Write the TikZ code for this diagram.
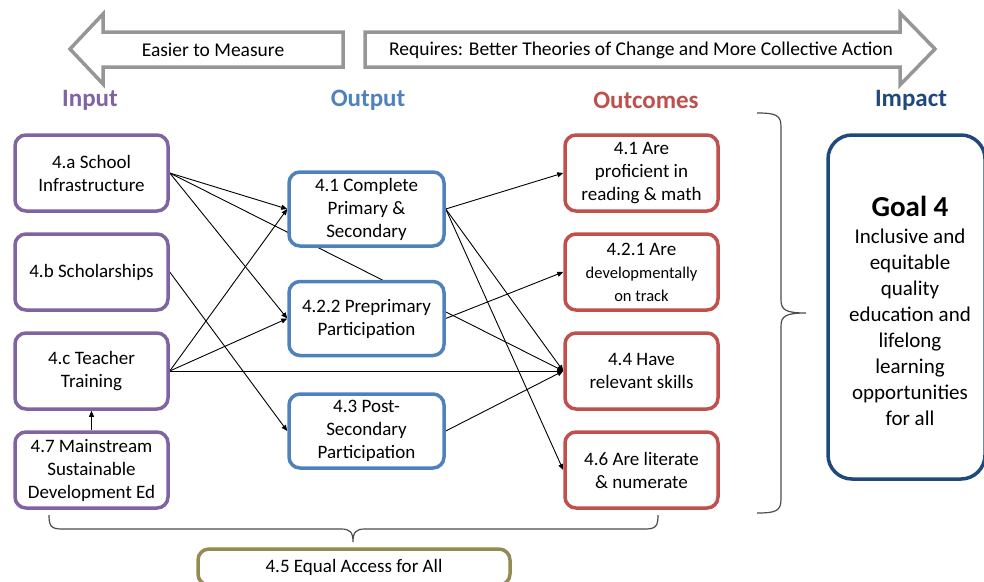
\documentclass[tikz,border=0pt]{standalone}
\usepackage{fontspec}
\setmainfont{Carlito}
\usetikzlibrary{arrows.meta,backgrounds}
\definecolor{inpurple}{HTML}{8064A2}
\definecolor{outblue}{HTML}{4F81BD}
\definecolor{ocred}{HTML}{C0504D}
\definecolor{impblue}{HTML}{1F497D}
\definecolor{eqolive}{HTML}{948A54}
\definecolor{arrgray}{HTML}{969696}
\begin{document}
\begin{tikzpicture}[x=1pt,y=-1pt,
  box/.style={draw, line width=3.5pt, rounded corners=11pt, fill=white,
    minimum width=153pt, align=center, inner sep=2pt,
    font=\fontsize{19}{23}\selectfont},
  inbox/.style={box, draw=inpurple, minimum height=76pt},
  outbox/.style={box, draw=outblue, minimum height=74pt, minimum width=155pt},
  ocbox/.style={box, draw=ocred, minimum height=76pt},
  head/.style={font=\fontsize{25}{29}\selectfont\bfseries},
  link/.style={line width=0.9pt, -{Triangle[length=6pt,width=5pt]}},
  bigarrow/.style={draw=arrgray, line width=3.5pt, fill=white, line join=miter},
  bracestyle/.style={draw=black!70, line width=1.2pt},
  arrowtext/.style={font=\fontsize{19.5}{23}\selectfont},
]
\useasboundingbox (0,0) rectangle (984,581);
\clip (0,0) rectangle (984,581);

% top banner arrows
\draw[bigarrow] (70,49) -- (103,14) -- (103,32) -- (343,32) -- (343,67)
  -- (103,67) -- (103,84) -- cycle;
\draw[bigarrow] (365,32) -- (900,32) -- (900,13) -- (935,49) -- (900,85)
  -- (900,67) -- (365,67) -- cycle;
\node[arrowtext] (easier) at (213,50) {Easier to Measure};
\node[arrowtext] (requires) at (641,50)
  {Requires: Better Theories of Change and More Collective Action};

% column headings
\node[head, text=inpurple] (hin) at (90,100) {Input};
\node[head, text=outblue] (hout) at (368,100) {Output};
\node[head, text=ocred] (hoc) at (646,100) {Outcomes};
\node[head, text=impblue] (himp) at (911,100) {Impact};

% inputs
\node[inbox] (ia) at (91.5,173) {4.a School\\Infrastructure};
\node[inbox] (ib) at (91.5,272) {4.b Scholarships};
\node[inbox] (ic) at (91.5,371) {4.c Teacher\\Training};
\node[inbox] (i7) at (91.5,470) {4.7 Mainstream\\Sustainable\\Development Ed};

% outputs
\node[outbox] (o41) at (366.5,209) {4.1 Complete\\Primary \&\\Secondary};
\node[outbox] (o422) at (366.5,318.5) {4.2.2 Preprimary\\Participation};
\node[outbox] (o43) at (366.5,431) {4.3 Post-\\Secondary\\Participation};

% outcomes
\node[ocbox] (c41) at (641.5,173) {4.1 Are\\proficient in\\reading \& math};
\node[ocbox] (c421) at (641.5,272)
  {4.2.1 Are\\{\fontsize{16.5}{20}\selectfont developmentally}\\{\fontsize{16.5}{20}\selectfont on track}};
\node[ocbox] (c44) at (641.5,371) {4.4 Have\\relevant skills};
\node[ocbox] (c46) at (641.5,470) {4.6 Are literate\\\& numerate};

% impact
\node[draw=impblue, line width=3.5pt, rounded corners=24pt, fill=white,
  minimum width=157pt, minimum height=344pt] (goal) at (906.5,307) {};
\node[font=\fontsize{29}{34}\selectfont\bfseries] (goaltitle) at (910,206) {Goal 4};
\node[font=\fontsize{21}{26}\selectfont, align=center] (goaltext) at (910,327)
  {Inclusive and\\equitable\\quality\\education and\\lifelong\\learning\\opportunities\\for all};

% equal access
\node[box, draw=eqolive, minimum width=312pt, minimum height=36pt] (eq) at (354,567)
  {4.5 Equal Access for All};

% connectors
\begin{scope}[on background layer]
  \draw[link] (ia.east) -- (o41.west);
  \draw[link] (ia.east) -- (o422.west);
  \draw[link] (ia.east) -- (c44.west);
  \draw[link] (ib.east) -- (o43.west);
  \draw[link] (ic.east) -- (o41.west);
  \draw[link] (ic.east) -- (o422.west);
  \draw[link] (ic.east) -- (c44.west);
  \draw[link] (i7.north) -- (ic.south);
  \draw[link] (o41.east) -- (c41.west);
  \draw[link] (o41.east) -- (c44.west);
  \draw[link] (o41.east) -- (c46.west);
  \draw[link] (o422.east) -- (c421.west);
  \draw[link] (o43.east) -- (c44.west);
\end{scope}

% braces
\draw[bracestyle] (757,113) .. controls (776,113) and (781,115) .. (781,127)
  -- (781,300) .. controls (781,310) and (786,313) .. (806,313)
  .. controls (786,313) and (781,316) .. (781,326)
  -- (781,499) .. controls (781,511) and (776,513) .. (757,513);
\draw[bracestyle] (49,515) .. controls (49,526) and (51,529) .. (62,529)
  -- (341,529) .. controls (350,529) and (353,532) .. (353,542)
  .. controls (353,532) and (356,529) .. (365,529)
  -- (645,529) .. controls (656,529) and (658,526) .. (658,515);
\end{tikzpicture}
\end{document}
